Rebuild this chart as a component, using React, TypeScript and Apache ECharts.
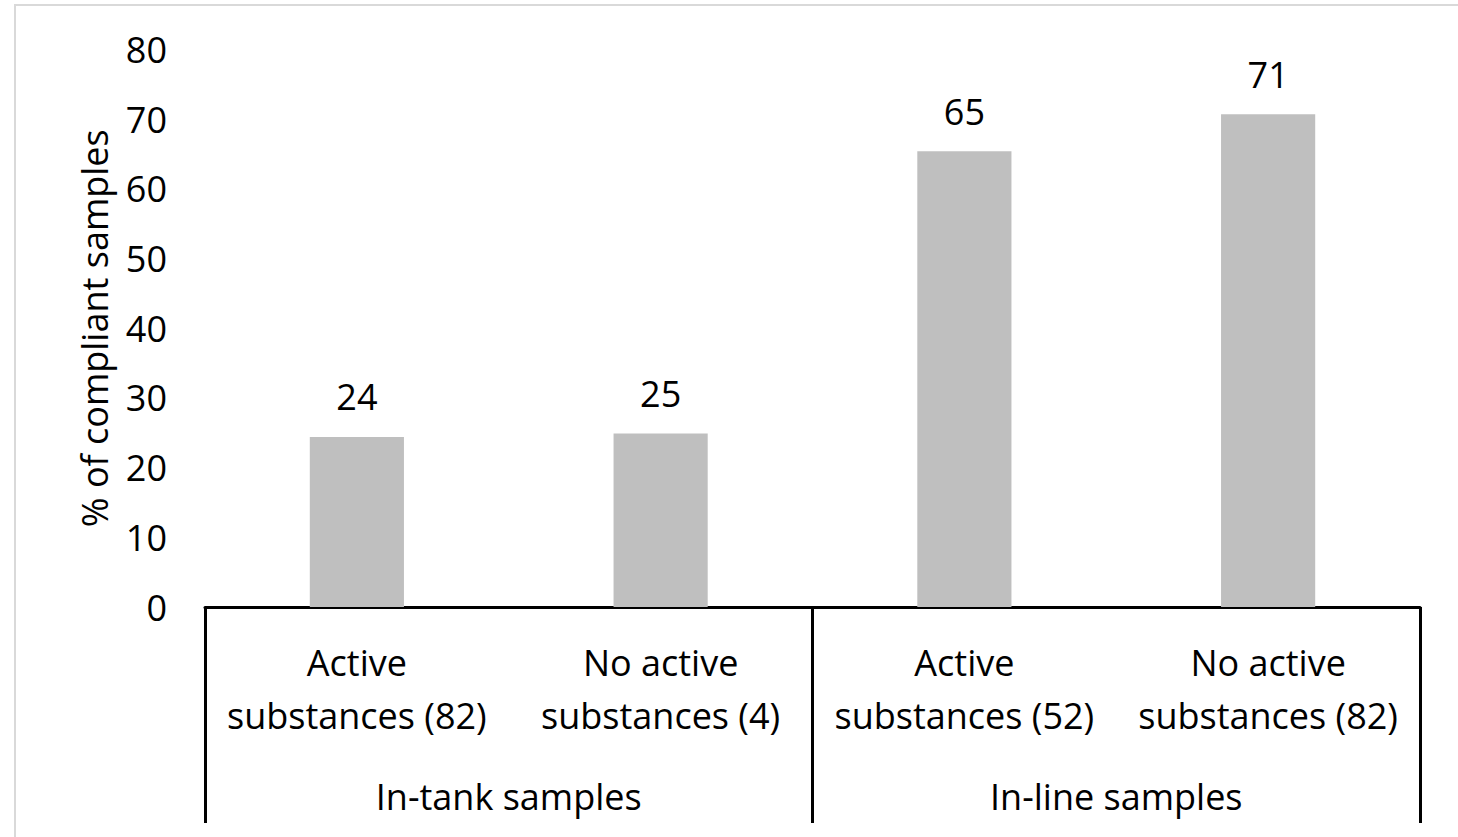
import React, { useEffect, useRef } from "react";
import * as echarts from "echarts";

const categories = [
  "Active\nsubstances (82)",
  "No active\nsubstances (4)",
  "Active\nsubstances (52)",
  "No active\nsubstances (82)",
];
const groups = ["In-tank samples", "In-line samples"];
const values = [24.4, 24.9, 65.4, 70.7];
const valueLabels = ["24", "25", "65", "71"];
const yTicks = [0, 10, 20, 30, 40, 50, 60, 70, 80];

const FONT = "'Open Sans', 'Noto Sans', sans-serif";
const FS = 36;

export default function App() {
  const ref = useRef<HTMLDivElement>(null);
  useEffect(() => {
    if (!ref.current) return;
    const chart = echarts.init(ref.current, undefined, { renderer: "svg" });
    chart.setOption({
      animation: false,
      backgroundColor: "#ffffff",
      textStyle: { fontFamily: FONT },
      graphic: [
        {
          type: "rect",
          shape: { x: 15, y: 5, width: 1500, height: 900 },
          style: { fill: "none", stroke: "#d9d9d9", lineWidth: 2 },
          silent: true,
        },
      ],
      grid: { left: 205, right: 38, top: 49.5, bottom: 230, containLabel: false },
      xAxis: [
        {
          type: "category",
          data: categories,
          position: "bottom",
          axisLine: { show: true, lineStyle: { color: "#000", width: 3 } },
          axisTick: { show: false },
          axisLabel: {
            margin: 29,
            fontSize: FS,
            lineHeight: 53,
            color: "#000",
            fontFamily: FONT,
            interval: 0,
          },
        },
        {
          type: "category",
          data: groups,
          position: "bottom",
          axisLine: { show: false },
          axisTick: { show: true, length: 216, lineStyle: { color: "#000", width: 3 } },
          axisLabel: {
            margin: 171,
            fontSize: FS,
            color: "#000",
            fontFamily: FONT,
            interval: 0,
          },
        },
      ],
      yAxis: {
        type: "value",
        min: 0,
        max: 80,
        interval: 10,
        name: "% of compliant samples",
        nameLocation: "middle",
        nameGap: 93,
        nameTextStyle: { fontSize: FS, color: "#000", fontFamily: FONT },
        axisLine: { show: false },
        axisTick: { show: false },
        splitLine: { show: false },
        axisLabel: {
          margin: 38,
          fontSize: FS,
          color: "#000",
          fontFamily: FONT,
          formatter: (v: number) => (yTicks.includes(v) ? String(v) : ""),
        },
      },
      series: [
        {
          type: "bar",
          data: values,
          xAxisIndex: 0,
          barWidth: "31%",
          itemStyle: { color: "#bfbfbf" },
          label: {
            show: true,
            position: "top",
            distance: 22,
            fontSize: FS,
            color: "#000",
            fontFamily: FONT,
            formatter: (p: any) => valueLabels[p.dataIndex],
          },
        },
      ],
    });
    return () => chart.dispose();
  }, []);
  return (
    <div
      ref={ref}
      style={{ position: "absolute", left: 0, top: 0, width: 1458, height: 837 }}
    />
  );
}
